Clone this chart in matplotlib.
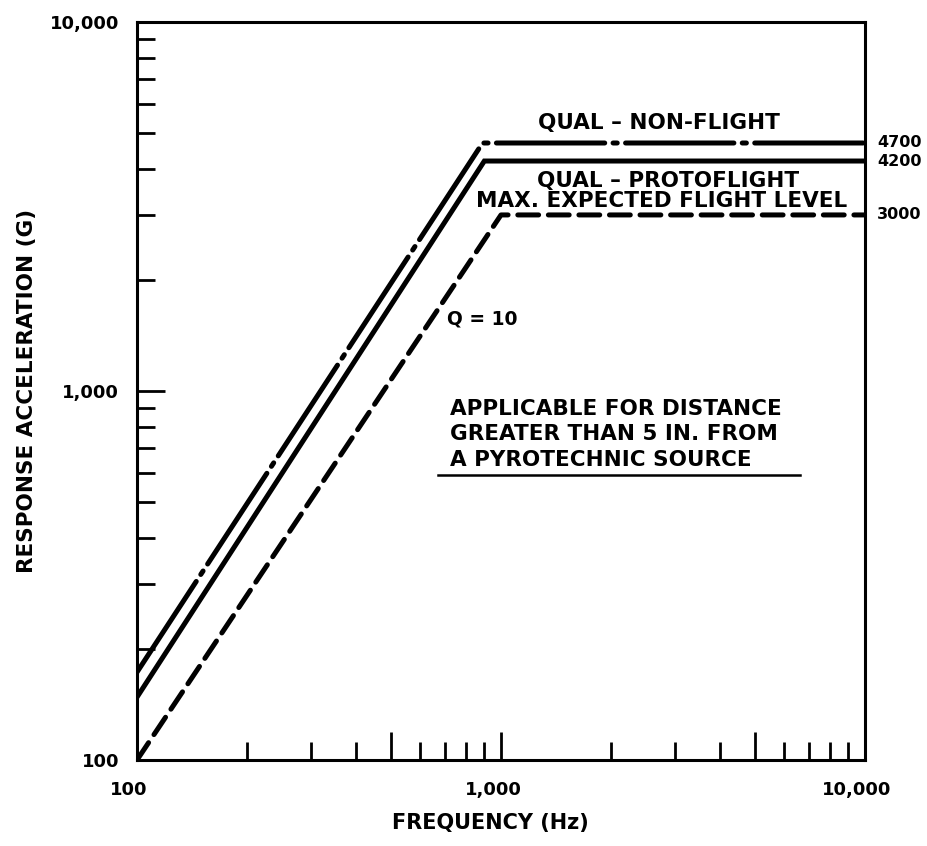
import matplotlib
matplotlib.use("Agg")
import matplotlib.pyplot as plt
import matplotlib.transforms as mtransforms
from matplotlib.ticker import FixedLocator, FuncFormatter

# Shock spectrum levels (Q = 10)
freq_nonflight = [100, 890, 10000]
g_nonflight = [173, 4700, 4700]

freq_protoflight = [100, 900, 10000]
g_protoflight = [148, 4200, 4200]

freq_flight = [100, 1000, 10000]
g_flight = [100, 3000, 3000]

level_labels = ["4700", "4200", "3000"]
level_values = [4700, 4200, 3000]

x_major = [100, 500, 1000, 5000, 10000]
x_labelled = [100, 1000, 10000]
decade_minor = [2, 3, 4, 6, 7, 8, 9]

plt.rcParams["lines.scale_dashes"] = False
plt.rcParams["font.family"] = ["DejaVu Sans"]
plt.rcParams["font.weight"] = "bold"

W, H = 928, 846
fig = plt.figure(figsize=(W / 100, H / 100), dpi=100)
L, R, T, B = 137, 865, 22, 760
ax = fig.add_axes([L / W, 1 - B / H, (R - L) / W, (B - T) / H])

ax.set_xscale("log")
ax.set_yscale("log")
ax.set_xlim(100, 10000)
ax.set_ylim(100, 10000)

lw = 3.6
ax.plot(freq_nonflight, g_nonflight, color="black", lw=lw,
        dashes=(78, 6, 3, 6), solid_capstyle="round", dash_capstyle="round")
ax.plot(freq_protoflight, g_protoflight, color="black", lw=lw,
        solid_joinstyle="miter")
ax.plot(freq_flight, g_flight, color="black", lw=lw,
        dashes=(15, 7), dash_capstyle="round")

for s in ax.spines.values():
    s.set_linewidth(2.2)

# x axis ticks: decades and mid-decade marks long, others short
ax.xaxis.set_major_locator(FixedLocator(x_major))
minor_x = [d * m for d in (100, 1000) for m in decade_minor if d * m not in x_major]
ax.xaxis.set_minor_locator(FixedLocator(minor_x))
ax.xaxis.set_major_formatter(
    FuncFormatter(lambda v, p: f"{v:,.0f}" if round(v) in x_labelled else ""))
ax.xaxis.set_minor_formatter(FuncFormatter(lambda v, p: ""))

ax.yaxis.set_major_locator(FixedLocator([100, 1000, 10000]))
minor_y = [d * m for d in (100, 1000) for m in [2, 3, 4, 5, 6, 7, 8, 9]]
ax.yaxis.set_minor_locator(FixedLocator(minor_y))
ax.yaxis.set_major_formatter(FuncFormatter(lambda v, p: f"{v:,.0f}"))
ax.yaxis.set_minor_formatter(FuncFormatter(lambda v, p: ""))

ax.tick_params(axis="both", which="major", direction="in", length=20,
               width=2.0, labelsize=13)
ax.tick_params(axis="both", which="minor", direction="in", length=13, width=2.0)
ax.tick_params(axis="x", which="major", pad=15)
ax.tick_params(axis="y", which="major", pad=13)
ax.tick_params(top=False, right=False, which="both")

shift = mtransforms.ScaledTranslation(-8 / 100, 0, fig.dpi_scale_trans)
for lab in ax.get_xticklabels():
    lab.set_transform(lab.get_transform() + shift)


def axpos(px, py):
    return (px - L) / (R - L), (B - py) / (B - T)


ax.set_xlabel("FREQUENCY (Hz)", fontsize=15, fontweight="bold")
ax.xaxis.set_label_coords(*axpos(490, 823))
ax.xaxis.label.set_va("center")
ax.set_ylabel("RESPONSE ACCELERATION (G)", fontsize=15.5, fontweight="bold")
ax.yaxis.set_label_coords(*axpos(27, 391))
ax.yaxis.label.set_va("center")

txt = dict(fontsize=15.5, fontweight="bold", va="center", ha="left",
           transform=ax.transAxes)
ax.text(*axpos(538, 123), "QUAL – NON-FLIGHT", **txt)
ax.text(*axpos(537, 181), "QUAL – PROTOFLIGHT", **txt)
ax.text(*axpos(476, 201), "MAX. EXPECTED FLIGHT LEVEL", **txt)
ax.text(*axpos(447, 319), "Q = 10", **{**txt, "fontsize": 13.5})
ax.text(*axpos(450, 409), "APPLICABLE FOR DISTANCE", **txt)
ax.text(*axpos(450, 434), "GREATER THAN 5 IN. FROM", **txt)
ax.text(*axpos(450, 460), "A PYROTECHNIC SOURCE", **txt)
x0, y0 = axpos(438, 475)
x1, _ = axpos(800, 475)
ax.plot([x0, x1], [y0, y0], color="black", lw=1.8, transform=ax.transAxes)

# level values beside the right edge
lvl_tr = mtransforms.blended_transform_factory(ax.transAxes, ax.transData)
for lab, val in zip(level_labels, level_values):
    ax.text(1 + 12 / (R - L), val, lab, transform=lvl_tr, fontsize=11.5,
            fontweight="bold", ha="left", va="center")

fig.savefig("out.png", dpi=100, facecolor="white")
